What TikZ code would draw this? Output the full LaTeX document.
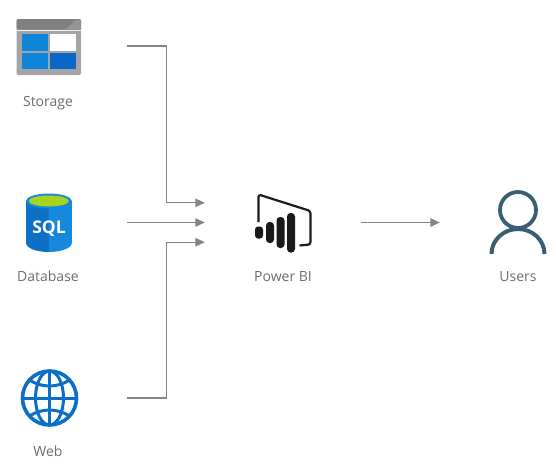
\documentclass[tikz,border=0pt]{standalone}
\usepackage{fontspec}
\setmainfont{Open Sans}
\usetikzlibrary{arrows.meta}
\definecolor{ink}{HTML}{1A1A1A}
\definecolor{flowgray}{HTML}{858585}
\definecolor{labelgray}{HTML}{6C6C6C}
\definecolor{framegray}{HTML}{A3A4A5}
\definecolor{bargray}{HTML}{7F8081}
\definecolor{barlight}{HTML}{949596}
\definecolor{azure}{HTML}{0F85D9}
\definecolor{azuredark}{HTML}{0B66C8}
\definecolor{sqlleft}{HTML}{0C70C4}
\definecolor{sqlright}{HTML}{1688DE}
\definecolor{sqlgreen}{HTML}{A6D41C}
\definecolor{globeblue}{HTML}{0A6FC6}
\definecolor{userslate}{HTML}{3A5F75}
\tikzset{
  iconbox/.style={rectangle,minimum width=156pt,minimum height=39pt,inner sep=0pt},
  caption/.style={font=\fontsize{14}{16}\selectfont,text=labelgray,align=center},
  flow/.style={-{Triangle[length=9.5pt,width=8.5pt]},line width=1.25pt,flowgray}
}
\begin{document}
\begin{tikzpicture}[x=1pt,y=-1pt]
    \useasboundingbox (0,0) rectangle (556,469);
    % storage icon
    \fill[framegray,rounded corners=2pt] (16.5,19) rectangle (81,75);
    \fill[bargray,rounded corners=2pt] (16.5,19) rectangle (81,29.5);
    \fill[barlight] (66,29.5) -- (76,19.5) -- (80.5,19.5) -- (80.5,29.5) -- cycle;
    \fill[white!85!framegray] (16.5,29.5) rectangle (81,30.7);
    \fill[azure] (22,34) rectangle (47.7,50.7);
    \fill[white] (49.7,34) rectangle (76,50.7);
    \fill[azure] (22,52.7) rectangle (47.7,69);
    \fill[azuredark] (49.7,52.7) rectangle (76,69);
    % database icon
    \fill[sqlleft] (26,201) -- (26,243) arc[start angle=180,end angle=90,x radius=22.9,y radius=9] -- (48.9,201) -- cycle;
    \fill[sqlright] (48.9,201) -- (48.9,252) arc[start angle=90,end angle=0,x radius=22.9,y radius=9] -- (71.8,201) -- cycle;
    \fill[sqlright] (48.9,201) ellipse[x radius=22.9,y radius=7.5];
    \fill[sqlgreen] (48.9,201) ellipse[x radius=20,y radius=5.5];
    \node[font=\fontsize{17.5}{20}\selectfont\bfseries,text=white,inner sep=0pt] (sqltag) at (49,229) {SQL};
    % web icon
    \begin{scope}[globeblue,line width=3.6pt]
      \draw (49.5,398) circle[radius=27];
      \draw[line width=3pt] (49.5,398) ellipse[x radius=14,y radius=27];
      \draw[line width=3pt] (49.5,371) -- (49.5,425);
      \draw[line width=3pt] (22.5,398) -- (76.5,398);
      \draw[line width=3pt] (29.5,380) .. controls (41.5,388) and (57.5,388) .. (69.5,380);
      \draw[line width=3pt] (29.5,416) .. controls (41.5,408) and (57.5,408) .. (69.5,416);
    \end{scope}
    % power bi icon
    \draw[ink,line width=2.2pt,line join=round,rounded corners=2.5pt] (258.5,222) -- (258.5,194.5) -- (310.5,211) -- (310.5,244.5) -- (299.5,245.5);
    \fill[ink,rounded corners=3pt] (255,226.5) rectangle (263,238.5);
    \fill[ink,rounded corners=3.5pt] (266,222) rectangle (274,243);
    \fill[ink,rounded corners=3.5pt] (276.5,217) rectangle (284.5,248);
    \fill[ink,rounded corners=3.5pt] (287,213) rectangle (295,252.5);
    % users icon
    \draw[userslate,line width=3.8pt] (518,210) circle[radius=18];
    \draw[userslate,line width=4pt] (491.5,254) arc[start angle=180,end angle=360,x radius=26.5,y radius=25];
    % nodes and labels
    \node[iconbox] (storage) at (49,46) {};
    \node[iconbox] (database) at (49,222.5) {};
    \node[iconbox] (web) at (49,398) {};
    \node[iconbox] (powerbi) at (283,222.5) {};
    \node[iconbox] (users) at (518,222.5) {};
    \node[caption] (storagelabel) at (48,103) {Storage};
    \node[caption] (databaselabel) at (48,276.5) {Database};
    \node[caption] (weblabel) at (48,451.5) {Web};
    \node[caption] (powerbilabel) at (283,276.5) {Power BI};
    \node[caption] (userslabel) at (518,276.5) {Users};
    % connectors
    \draw[flow] (storage.east) -- ++(39,0) |- (powerbi.north west);
    \draw[flow] (database.east) -- (powerbi.west);
    \draw[flow] (web.east) -- ++(39,0) |- (powerbi.south west);
    \draw[flow] (powerbi.east) -- (users.west);
  \end{tikzpicture}
\end{document}
